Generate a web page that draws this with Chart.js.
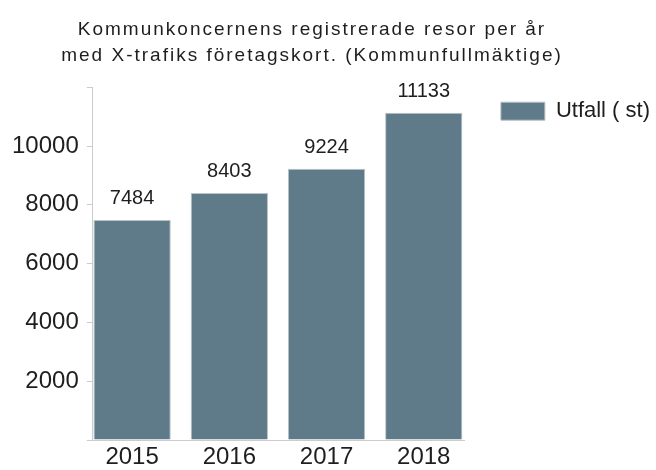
<!DOCTYPE html>
<html>
<head>
<meta charset="utf-8">
<script src="https://cdn.jsdelivr.net/npm/chart.js@4/dist/chart.umd.min.js"></script>
<style>
  html, body { margin: 0; padding: 0; background: #fff; }
  canvas { display: block; }
</style>
</head>
<body>
<canvas id="chart" width="656" height="470"></canvas>
<script>
// data
const years = [2015, 2016, 2017, 2018];
const trips = [7484, 8403, 9224, 11133];
const yTickLabels = [2000, 4000, 6000, 8000, 10000];
const titleLines = [
  'Kommunkoncernens registrerade resor per år',
  'med X-trafiks företagskort. (Kommunfullmäktige)'
];
const seriesName = 'Utfall ( st)';

const barColor = '#5f7a88';
const textColor = '#1e1e1e';
const axisColor = '#cccccc';

Chart.defaults.font.family = '"Liberation Sans", Arial, sans-serif';
Chart.defaults.color = textColor;

// values above the bars
const valueLabels = {
  id: 'valueLabels',
  afterDatasetsDraw(chart) {
    const ctx = chart.ctx;
    const meta = chart.getDatasetMeta(0);
    ctx.save();
    ctx.font = '20px "Liberation Sans", Arial, sans-serif';
    ctx.fillStyle = textColor;
    ctx.textAlign = 'center';
    ctx.textBaseline = 'alphabetic';
    meta.data.forEach((bar, i) => {
      ctx.fillText(String(trips[i]), bar.x, bar.y - 16);
    });
    ctx.restore();
  }
};

// small placement tweaks for title and legend
const nudge = {
  id: 'nudge',
  afterLayout(chart) {
    const t = chart.titleBlock;
    t.left -= 7;
    t.right -= 7;
    if (!t._spaced) {
      const draw = t.draw;
      t.draw = function (area) {
        this.ctx.save();
        this.ctx.letterSpacing = '2px';
        draw.call(this, area);
        this.ctx.restore();
      };
      t._spaced = true;
    }
    const l = chart.legend;
    l.left += 26;
    l.right += 26;
    l.top += 3;
    l.bottom += 3;
  }
};

new Chart(document.getElementById('chart'), {
  type: 'bar',
  data: {
    labels: years,
    datasets: [{
      label: seriesName,
      data: trips,
      backgroundColor: barColor,
      borderColor: '#b9c3c8',
      borderWidth: 1,
      categoryPercentage: 1,
      barPercentage: 0.795
    }]
  },
  plugins: [valueLabels, nudge],
  options: {
    responsive: false,
    animation: false,
    layout: { padding: { left: 4, right: 22, top: 0, bottom: -4 } },
    plugins: {
      title: {
        display: true,
        text: titleLines,
        color: textColor,
        font: { size: 19, weight: 'normal', lineHeight: 1.4 },
        padding: { top: 16, bottom: 18 }
      },
      legend: {
        position: 'right',
        align: 'start',
        fullSize: false,
        maxWidth: 300,
        labels: {
          boxWidth: 44,
          boxHeight: 18,
          padding: 10,
          color: textColor,
          font: { size: 22 }
        }
      },
      tooltip: { enabled: false }
    },
    scales: {
      x: {
        type: 'linear',
        min: 2014.595,
        max: 2018.423,
        offset: false,
        grid: { display: false, drawTicks: false },
        border: { display: true, color: axisColor, width: 1 },
        ticks: {
          stepSize: 1,
          includeBounds: false,
          padding: 4,
          color: textColor,
          font: { size: 24, lineHeight: 1.08 },
          callback: v => String(v)
        },
        afterFit(scale) {
          scale.paddingLeft = 0;
          scale.paddingRight = 0;
        }
      },
      y: {
        min: 0,
        max: 12000,
        grid: {
          display: true,
          drawOnChartArea: false,
          drawTicks: true,
          tickLength: 6,
          color: axisColor
        },
        border: { display: true, color: axisColor, width: 1 },
        ticks: {
          stepSize: 2000,
          padding: 8,
          color: textColor,
          font: { size: 24 },
          callback: v => (yTickLabels.includes(v) ? String(v) : '')
        }
      }
    }
  }
});
</script>
</body>
</html>
